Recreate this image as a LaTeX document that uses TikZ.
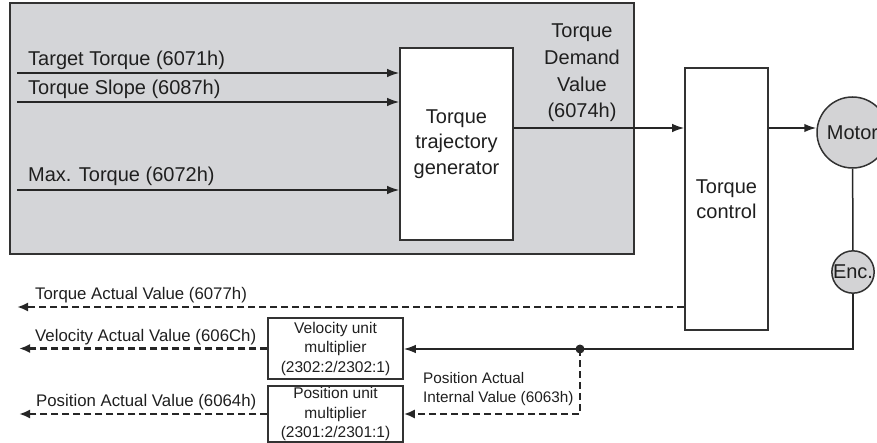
\documentclass[tikz,border=0pt]{standalone}
\usepackage{fontspec}
\setmainfont{Liberation Sans}
\usetikzlibrary{arrows.meta}

\definecolor{panelgray}{RGB}{212,213,216}
\definecolor{wheelgray}{RGB}{211,211,213}
\definecolor{linegray}{RGB}{50,50,50}

\begin{document}
\begin{tikzpicture}[
    x=1pt, y=-1pt,
    every node/.style={text=black!88},
    panel/.style={draw=linegray, line width=1.6pt, fill=panelgray, rectangle},
    block/.style={draw=linegray, line width=1.6pt, fill=white, rectangle, align=center,
        font=\fontsize{20}{25.5}\selectfont},
    smallbox/.style={draw=linegray, line width=1.5pt, fill=white, rectangle, align=center,
        inner sep=0pt, font=\fontsize{15.5}{19.5}\selectfont},
    wheel/.style={draw=linegray, line width=1.5pt, fill=wheelgray, circle, inner sep=0pt,
        font=\fontsize{20}{24}\selectfont},
    biglbl/.style={anchor=base west, inner sep=0pt, font=\fontsize{20}{24}\selectfont},
    lbl/.style={anchor=base west, inner sep=0pt, font=\fontsize{16.8}{19}\selectfont},
    wire/.style={draw=black!85, line width=1.5pt},
    sig/.style={wire, -{Latex[length=12pt,width=8.5pt]}},
    dsig/.style={draw=black!85, line width=2.3pt, dash pattern=on 7pt off 4pt,
        -{Latex[length=11pt,width=9pt]}}
]
\useasboundingbox (0,0) rectangle (877,443);

% drive side
\node[panel, minimum width=624pt, minimum height=251pt] (panel) at (322,128.5) {};
\node[block, minimum width=113pt, minimum height=192pt] (gen) at (456.5,144) {Torque\\trajectory\\generator};
\node[block, minimum width=83pt, minimum height=262pt] (ctrl) at (726.5,199) {Torque\\control};
\node[wheel, minimum size=71pt] (motor) at (852.5,132.5) {Motor};
\node[wheel, minimum size=42pt] (enc) at (853,272) {Enc.};
\node[smallbox, minimum width=135pt, minimum height=61pt] (vel) at (335.5,348.5) {Velocity unit\\multiplier\\(2302:2/2302:1)};
\node[smallbox, minimum width=135pt, minimum height=56pt] (pos) at (335.5,414) {Position unit\\multiplier\\(2301:2/2301:1)};

% inputs
\coordinate (tgt) at (17,73);
\coordinate (slope) at (17,102);
\coordinate (maxt) at (17,190);
\node[biglbl] (tgtlbl) at (28,66) {Target Torque (6071h)};
\node[biglbl] (slopelbl) at (28,95) {Torque Slope (6087h)};
\node[biglbl] (maxtlbl) at (28,182) {Max. Torque (6072h)};
\draw[sig] (tgt) -- (gen.west |- tgt);
\draw[sig] (slope) -- (gen.west |- slope);
\draw[sig] (maxt) -- (gen.west |- maxt);

% demand value
\coordinate (dem) at (600,128);
\node[align=center, inner sep=0pt, font=\fontsize{20}{26.7}\selectfont] (demlbl) at (582,73) {Torque\\Demand\\Value\\(6074h)};
\draw[sig] (gen.east |- dem) -- (ctrl.west |- dem);
\draw[sig] (ctrl.east |- dem) -- (motor.west |- dem);
\draw[wire] (motor) -- (enc);

% feedback
\coordinate (fb) at (853,349);
\coordinate (tap) at (580,349);
\draw[sig] (enc.south) -- (fb) -- (vel.east |- fb);
\fill[black!85] (tap) circle (4.5);
\draw[dsig] (tap) |- (pos.east);
\node[lbl, font=\fontsize{15.3}{19}\selectfont, align=left, anchor=north west] (pivlbl) at (423,372) {Position Actual\\Internal Value (6063h)};

% outputs
\coordinate (tav) at (17,307);
\coordinate (vav) at (19,349);
\coordinate (pav) at (19,414);
\draw[dsig] (ctrl.west |- tav) -- (tav);
\draw[dsig] (vel.west) -- (vav |- vel.west);
\draw[dsig] (pos.west) -- (pav);
\node[lbl] (tavlbl) at (35,299) {Torque Actual Value (6077h)};
\node[lbl] (vavlbl) at (35,341) {Velocity Actual Value (606Ch)};
\node[lbl] (pavlbl) at (36,406) {Position Actual Value (6064h)};

\end{tikzpicture}
\end{document}
